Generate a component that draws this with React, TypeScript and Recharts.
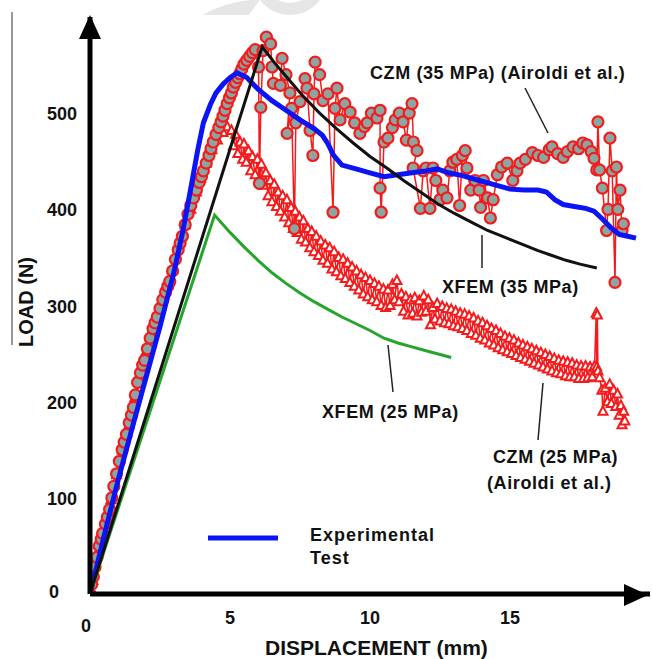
import React from "react";
import { LineChart, Line, XAxis, YAxis, ReferenceDot } from "recharts";

// displacement (mm), load (N)
const experimental: [number, number][] = [
  [0, 0], [0.5, 60], [1.0, 118], [1.5, 172], [2.0, 225], [2.5, 278], [3.0, 335], [3.3, 375],
  [3.6, 422], [3.85, 462], [4.05, 490], [4.3, 509], [4.5, 521], [4.75, 530], [5.0, 537], [5.25, 542],
  [5.6, 537], [6.0, 525], [6.5, 513], [7.0, 503], [7.5, 493], [8.0, 484], [8.3, 477], [8.5, 468],
  [8.7, 456], [9.0, 446], [9.5, 442], [10.0, 438], [10.5, 434], [11.0, 436], [11.5, 438], [12.0, 440],
  [12.4, 442], [12.8, 438], [13.3, 435], [13.9, 430], [14.4, 426], [15.0, 421], [15.5, 420], [16.0, 420],
  [16.3, 418], [16.6, 410], [16.9, 405], [17.3, 403], [17.7, 401], [18.0, 398], [18.3, 390], [18.6, 381],
  [18.9, 374], [19.2, 372], [19.5, 370],
];

const xfem35: [number, number][] = [
  [0, 0], [6.15, 569], [6.6, 552], [7.1, 535], [7.6, 518], [8.2, 500], [8.8, 484], [9.4, 469],
  [10.0, 455], [10.6, 443], [11.2, 430], [11.8, 418], [12.4, 406], [13.0, 396], [13.6, 387], [14.2, 378],
  [14.8, 371], [15.4, 364], [16.0, 357], [16.5, 352], [17.0, 347], [17.5, 343], [18.1, 339],
];

const xfem25: [number, number][] = [
  [0, 0], [4.45, 394], [5.0, 376], [5.5, 361], [6.0, 347], [6.5, 334], [7.0, 323], [7.5, 313],
  [8.0, 304], [8.5, 296], [9.0, 288], [9.5, 281], [10.0, 274], [10.5, 266], [11.0, 261], [11.5, 257],
  [12.0, 253], [12.5, 249], [12.9, 246],
];

const czm35: [number, number][] = [
  [0, 0], [0.06, 10], [0.12, 18], [0.18, 28], [0.25, 38], [0.33, 50], [0.4, 57], [0.45, 63],
  [0.55, 73], [0.62, 80], [0.7, 88], [0.78, 100], [0.85, 112], [0.95, 125], [1.05, 138], [1.15, 150],
  [1.22, 158], [1.3, 166], [1.4, 178], [1.48, 186], [1.55, 194], [1.62, 207], [1.7, 220], [1.8, 230],
  [1.88, 238], [1.95, 243], [2.05, 255], [2.15, 266], [2.25, 276], [2.32, 282], [2.4, 288], [2.5, 297],
  [2.6, 306], [2.7, 314], [2.78, 320], [2.85, 325], [2.95, 336], [3.05, 348], [3.15, 358], [3.22, 365],
  [3.3, 372], [3.4, 384], [3.5, 395], [3.6, 404], [3.7, 412], [3.8, 420], [3.9, 428], [3.98, 434],
  [4.05, 440], [4.15, 448], [4.25, 456], [4.32, 463], [4.4, 470], [4.5, 478], [4.6, 485], [4.68, 491],
  [4.75, 497], [4.82, 503], [4.9, 510], [4.98, 516], [5.05, 521], [5.12, 527], [5.2, 532], [5.28, 537],
  [5.35, 541], [5.42, 546], [5.5, 551], [5.6, 555], [5.7, 559], [5.8, 563], [5.9, 566],
  [6.02, 548], [6.05, 427], [6.1, 506], [6.18, 565], [6.3, 579], [6.45, 572], [6.5, 548], [6.55, 531],
  [6.8, 529], [6.86, 557], [7.0, 540], [7.14, 521], [7.04, 479], [7.2, 505], [7.3, 380], [7.35, 490],
  [7.5, 512], [7.68, 536], [7.75, 526], [7.86, 482], [7.96, 456], [8.0, 520], [8.04, 553], [8.2, 540],
  [8.32, 513], [8.5, 520], [8.68, 397], [8.75, 505], [8.82, 526], [8.93, 493], [9.1, 510], [9.29, 501],
  [9.45, 490], [9.64, 479], [9.8, 486], [9.9, 490], [10.05, 500], [10.25, 495], [10.36, 503], [10.36, 422],
  [10.4, 397], [10.5, 470], [10.64, 474], [10.8, 485], [10.9, 493], [11.05, 500], [11.18, 491], [11.3, 472],
  [11.4, 500], [11.5, 510], [11.55, 470], [11.68, 461], [11.54, 443], [11.8, 401], [11.9, 440], [12.0, 443],
  [12.14, 401], [12.25, 443], [12.35, 430], [12.5, 410], [12.6, 420], [12.75, 412], [12.85, 440], [12.96, 449],
  [13.1, 452], [13.2, 404], [13.3, 456], [13.4, 461], [13.46, 443], [13.6, 420], [13.75, 430], [13.9, 420],
  [13.95, 402], [14.05, 430], [14.2, 412], [14.3, 391], [14.4, 410], [14.55, 436], [14.7, 444], [14.9, 448],
  [15.1, 430], [15.25, 440], [15.36, 448], [15.55, 452], [15.8, 459], [16.0, 456], [16.2, 454], [16.4, 462],
  [16.5, 465], [16.7, 458], [16.9, 454], [17.05, 460], [17.25, 465], [17.45, 463], [17.6, 469], [17.75, 467],
  [17.9, 460], [18.0, 453], [18.1, 441], [18.14, 491], [18.2, 441], [18.3, 422], [18.45, 378], [18.5, 400],
  [18.57, 474], [18.65, 440], [18.75, 324], [18.8, 444], [18.85, 400], [18.93, 420], [19.0, 378], [19.05, 385],
];

const czm25: [number, number][] = [
  [0, 0], [0.1, 14], [0.3, 45], [0.55, 74], [0.75, 98], [0.95, 124], [1.15, 150], [1.4, 176],
  [1.6, 204], [1.8, 230], [2.0, 252], [2.25, 276], [2.5, 298], [2.7, 316], [2.95, 338], [3.15, 360],
  [3.4, 384], [3.6, 400], [3.8, 418], [3.95, 432], [4.15, 448], [4.35, 462], [4.55, 472], [4.75, 480],
  [4.9, 486], [5.05, 482], [5.12, 466], [5.2, 478], [5.28, 458], [5.36, 470], [5.45, 452], [5.5, 468],
  [5.58, 449], [5.66, 461], [5.74, 440], [5.8, 455], [5.9, 436], [5.98, 452], [6.05, 430], [6.12, 447],
  [6.2, 425], [6.28, 438], [6.36, 414], [6.44, 430], [6.5, 408], [6.58, 426], [6.66, 403], [6.72, 418],
  [6.8, 398], [6.88, 414], [6.95, 392], [7.03, 410], [7.1, 386], [7.18, 402], [7.26, 380], [7.33, 398],
  [7.4, 376], [7.48, 392], [7.55, 369], [7.62, 388], [7.7, 366], [7.78, 380], [7.85, 360], [7.92, 377],
  [8.0, 356], [8.08, 372], [8.16, 352], [8.24, 367], [8.32, 347], [8.4, 363], [8.48, 344], [8.56, 360],
  [8.64, 338], [8.72, 356], [8.8, 335], [8.88, 350], [8.96, 331], [9.04, 348], [9.12, 328], [9.2, 344],
  [9.28, 324], [9.36, 340], [9.44, 320], [9.52, 336], [9.6, 316], [9.68, 332], [9.76, 312], [9.84, 329],
  [9.92, 309], [10.0, 326], [10.08, 306], [10.16, 323], [10.24, 304], [10.32, 320], [10.4, 300], [10.48, 317],
  [10.56, 298], [10.64, 316], [10.72, 300], [10.8, 322], [10.88, 306], [10.96, 326], [11.04, 304], [11.12, 312],
  [11.2, 294], [11.28, 309], [11.36, 290], [11.44, 306], [11.52, 292], [11.6, 308], [11.68, 289], [11.76, 305],
  [11.84, 293], [11.92, 310], [12.0, 294], [12.08, 306], [12.16, 280], [12.24, 298], [12.32, 286], [12.4, 302],
  [12.5, 284], [12.58, 299], [12.66, 282], [12.74, 297], [12.82, 281], [12.9, 296], [12.98, 279], [13.06, 294],
  [13.14, 278], [13.22, 292], [13.3, 276], [13.38, 291], [13.46, 274], [13.54, 289], [13.62, 271], [13.7, 287],
  [13.78, 269], [13.86, 284], [13.94, 266], [14.02, 282], [14.1, 264], [14.18, 279], [14.26, 261], [14.34, 276],
  [14.42, 259], [14.5, 274], [14.58, 256], [14.66, 271], [14.74, 254], [14.82, 268], [14.9, 252], [14.98, 266],
  [15.06, 250], [15.14, 264], [15.22, 248], [15.3, 261], [15.38, 246], [15.46, 259], [15.54, 244], [15.62, 257],
  [15.7, 242], [15.78, 255], [15.86, 240], [15.94, 253], [16.02, 238], [16.1, 251], [16.18, 236], [16.26, 249],
  [16.34, 234], [16.42, 247], [16.5, 232], [16.58, 245], [16.66, 230], [16.74, 243], [16.82, 229], [16.9, 242],
  [16.98, 227], [17.06, 241], [17.14, 226], [17.22, 240], [17.3, 226], [17.38, 238], [17.46, 224], [17.54, 237],
  [17.62, 224], [17.7, 237], [17.78, 225], [17.86, 236], [17.94, 226], [18.02, 237], [18.08, 292], [18.1, 236],
  [18.12, 290], [18.14, 232], [18.2, 225], [18.28, 212], [18.32, 190], [18.4, 214], [18.48, 200], [18.56, 218],
  [18.62, 198], [18.7, 212], [18.78, 195], [18.84, 208], [18.9, 186], [18.96, 196], [19.0, 176], [19.06, 190],
  [19.1, 180],
];

const xTicks = [0, 5, 10, 15];
const yTicks = [0, 100, 200, 300, 400, 500];

const toRows = (pts: [number, number][]) => pts.map(([x, y]) => ({ x, y }));

const FONT = "'Liberation Sans', Arial, sans-serif";
const RED = "#f21c1c";
const W = 652;
const H = 659;
const MARGIN = { top: 17, right: 2, bottom: 15, left: 10 };

function GrayDot(p: any) {
  return <circle key={`g-${p.index}`} cx={p.cx} cy={p.cy} r={5.5} fill="#8ea4a1" stroke={RED} strokeWidth={2.2} />;
}

function TriDot(p: any) {
  const { cx, cy } = p;
  return (
    <polygon
      key={`t-${p.index}`}
      points={`${cx},${cy - 5} ${cx - 4.5},${cy + 3.5} ${cx + 4.5},${cy + 3.5}`}
      fill="#fff"
      stroke={RED}
      strokeWidth={2}
    />
  );
}

function XTick(p: any) {
  const v = p.payload.value;
  return (
    <text x={v === 0 ? p.x - 4 : p.x} y={v === 0 ? 632 : 624} textAnchor="middle" fontFamily={FONT} fontWeight="bold" fontSize={18} fill="#111">
      {v}
    </text>
  );
}

function YTick(p: any) {
  const v = p.payload.value;
  return (
    <text x={v === 0 ? 54 : 62} y={p.y + (v === 0 ? 4 : 7)} textAnchor="middle" fontFamily={FONT} fontWeight="bold" fontSize={18} fill="#111">
      {v}
    </text>
  );
}

function ArrowUp(p: any) {
  const { cx, cy } = p;
  return <polygon points={`${cx},${cy - 2} ${cx - 11},${cy + 22} ${cx + 11},${cy + 22}`} fill="#000" />;
}

function ArrowRight(p: any) {
  const { cx, cy } = p;
  return <polygon points={`${cx - 2},${cy + 1} ${cx - 26},${cy - 10} ${cx - 26},${cy + 12}`} fill="#000" />;
}

const labelStyle = { fontFamily: FONT, fontWeight: "bold" as const, fontSize: 18, fill: "#111", letterSpacing: 0.6 };
const layer = { position: "absolute" as const, left: 0, top: 0 };

export default function App() {
  return (
    <div style={{ position: "absolute", left: 0, top: 0, width: W, height: H, background: "#fff" }}>
      {/* CZM series underneath */}
      <div style={layer}>
        <LineChart width={W} height={H} margin={MARGIN}>
          <XAxis type="number" dataKey="x" domain={[0, 20]} allowDataOverflow height={50} axisLine={false} tickLine={false} tick={false} />
          <YAxis type="number" dataKey="y" domain={[0, 600]} allowDataOverflow width={80} axisLine={false} tickLine={false} tick={false} />
          <Line data={toRows(czm25)} dataKey="y" type="linear" stroke={RED} strokeWidth={1.5} dot={TriDot} isAnimationActive={false} />
          <Line data={toRows(czm35)} dataKey="y" type="linear" stroke={RED} strokeWidth={1.5} dot={GrayDot} isAnimationActive={false} />
        </LineChart>
      </div>
      {/* experimental + XFEM curves and axes on top */}
      <div style={layer}>
        <LineChart width={W} height={H} margin={MARGIN}>
          <XAxis
            type="number"
            dataKey="x"
            domain={[0, 20]}
            ticks={xTicks}
            allowDataOverflow
            height={50}
            axisLine={{ stroke: "#000", strokeWidth: 5 }}
            tickLine={false}
            tick={<XTick />}
          />
          <YAxis
            type="number"
            dataKey="y"
            domain={[0, 600]}
            ticks={yTicks}
            allowDataOverflow
            width={80}
            axisLine={{ stroke: "#000", strokeWidth: 5 }}
            tickLine={false}
            tick={<YTick />}
          />
          <Line data={toRows(experimental)} dataKey="y" type="linear" stroke="#0a14f5" strokeWidth={5} dot={false} isAnimationActive={false} />
          <Line data={toRows(xfem25)} dataKey="y" type="linear" stroke="#25a52c" strokeWidth={3} dot={false} isAnimationActive={false} />
          <Line data={toRows(xfem35)} dataKey="y" type="linear" stroke="#111" strokeWidth={3} dot={false} isAnimationActive={false} />
          <ReferenceDot x={0} y={600} r={0} shape={ArrowUp} />
          <ReferenceDot x={20} y={0} r={0} shape={ArrowRight} />
        </LineChart>
      </div>
      <svg width={W} height={H} style={{ ...layer, pointerEvents: "none" }}>
        <circle cx={290} cy={-22} r={31} fill="none" stroke="#e6e6e6" strokeWidth={12} />
        <path d="M203,15 Q222,3 250,0 L260,0 Q254,8 249,15 Z" fill="#e6e6e6" />
        <line x1={12} y1={12} x2={12} y2={345} stroke="#333" strokeWidth={1} />

        <line x1={525} y1={88} x2={548} y2={133} stroke="#222" strokeWidth={1.5} />
        <line x1={482} y1={235} x2={482} y2={268} stroke="#222" strokeWidth={1.5} />
        <line x1={388} y1={345} x2={393} y2={392} stroke="#222" strokeWidth={1.5} />
        <line x1={543} y1={383} x2={538} y2={440} stroke="#222" strokeWidth={1.5} />

        <text x={370} y={79} {...labelStyle}>CZM (35 MPa) (Airoldi et al.)</text>
        <text x={442} y={293} {...labelStyle}>XFEM (35 MPa)</text>
        <text x={322} y={418} {...labelStyle}>XFEM (25 MPa)</text>
        <text x={493} y={463} {...labelStyle}>CZM (25 MPa)</text>
        <text x={487} y={489} {...labelStyle}>(Airoldi et al.)</text>

        <line x1={208} y1={538} x2={278} y2={538} stroke="#0a14f5" strokeWidth={5} />
        <text x={310} y={541} {...labelStyle} letterSpacing={1}>Experimental</text>
        <text x={310} y={564} {...labelStyle} letterSpacing={1}>Test</text>

        <text x={265} y={655} fontFamily={FONT} fontWeight="bold" fontSize={21} fill="#111">DISPLACEMENT (mm)</text>
        <text x={33} y={302} transform="rotate(-90 33 302)" textAnchor="middle" fontFamily={FONT} fontWeight="bold" fontSize={20} fill="#111">LOAD (N)</text>
      </svg>
    </div>
  );
}
